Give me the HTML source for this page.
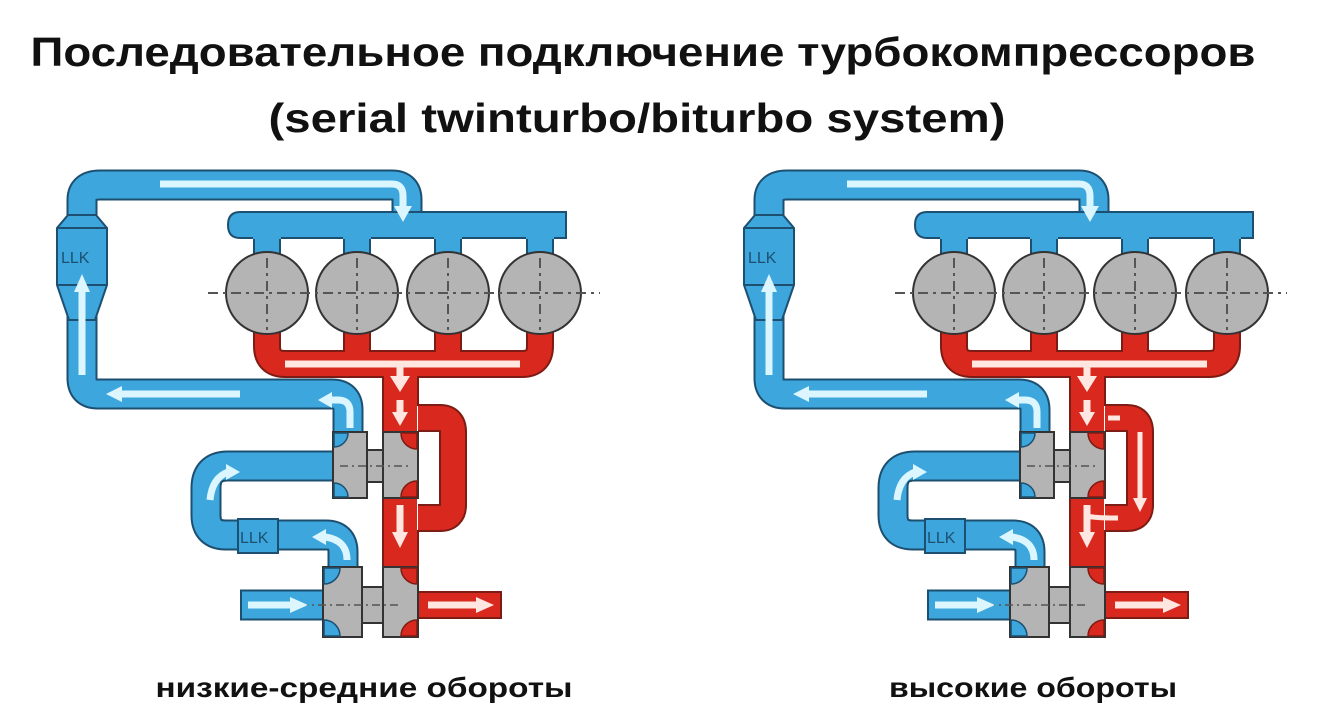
<!DOCTYPE html>
<html><head><meta charset="utf-8"><style>
html,body{margin:0;padding:0;background:#fff;}
svg{display:block;}
</style></head><body>
<svg width="1320" height="726" viewBox="0 0 1320 726" xmlns="http://www.w3.org/2000/svg">
<defs>
<g id="d">
  <g fill="none" stroke="#1d4f70" stroke-width="31" stroke-linejoin="round">
    <path d="M82,232 V200 Q82,185 100,185 H392 Q407,185 407,200 V222"/>
    <path d="M82,300 V378 Q82,394 98,394 H332 Q348,394 348,410 V434"/>
    <path d="M335,466 H228 Q206,466 206,488 V515 Q206,535 226,535 H326 Q343,535 343,552 V570"/>
    <path d="M240,605 H325"/>
  </g>
  <g fill="none" stroke="#3ca6dd" stroke-width="27" stroke-linejoin="round">
    <path d="M82,232 V200 Q82,185 100,185 H392 Q407,185 407,200 V222"/>
    <path d="M82,300 V378 Q82,394 98,394 H332 Q348,394 348,410 V434"/>
    <path d="M335,466 H228 Q206,466 206,488 V515 Q206,535 226,535 H326 Q343,535 343,552 V570"/>
    <path d="M242,605 H325"/>
  </g>
  <path d="M68,215 L96,215 L107,228 L107,285 L95,320 L69,320 L57,285 L57,228 Z" fill="#3ca6dd" stroke="#1d4f70" stroke-width="2"/>
  <line x1="57" y1="228" x2="107" y2="228" stroke="#1d4f70" stroke-width="2"/>
  <line x1="57" y1="285" x2="107" y2="285" stroke="#1d4f70" stroke-width="2"/>
  <rect x="238" y="519" width="40" height="34" fill="#3ca6dd" stroke="#1d4f70" stroke-width="2"/>
  <path d="M240,212 H566 V238 H240 Q228,238 228,225 Q228,212 240,212 Z" fill="#3ca6dd" stroke="#1d4f70" stroke-width="2"/>
  <g fill="#3ca6dd" stroke="#1d4f70" stroke-width="2">
    <rect x="254" y="236" width="26" height="26"/>
    <rect x="344" y="236" width="26" height="26"/>
    <rect x="435" y="236" width="26" height="26"/>
    <rect x="527" y="236" width="26" height="26"/>
  </g>
  <rect x="253" y="234" width="28" height="5" fill="#3ca6dd"/>
  <rect x="343" y="234" width="28" height="5" fill="#3ca6dd"/>
  <rect x="434" y="234" width="28" height="5" fill="#3ca6dd"/>
  <rect x="526" y="234" width="28" height="5" fill="#3ca6dd"/>
  <g fill="none" stroke="#7d1c14" stroke-width="28" stroke-linejoin="round">
    <path d="M267,320 V346 Q267,364 285,364 H522 Q540,364 540,346 V320"/>
    <path d="M357,320 V360"/><path d="M448,320 V360"/>
    <path d="M400,364 V600"/>
    <path d="M418,418 H440 Q453,418 453,432 V505 Q453,518 440,518 H418"/>
    <path d="M418,605 H502"/>
  </g>
  <g fill="none" stroke="#d9281d" stroke-width="24" stroke-linejoin="round">
    <path d="M267,320 V346 Q267,364 285,364 H522 Q540,364 540,346 V320"/>
    <path d="M357,320 V360"/><path d="M448,320 V360"/>
    <path d="M400,364 V600"/>
    <path d="M418,418 H440 Q453,418 453,432 V505 Q453,518 440,518 H418"/>
    <path d="M418,605 H500"/>
  </g>
  <rect x="384" y="364" width="33" height="270" fill="#d9281d"/>
  <line x1="383" y1="376" x2="383" y2="634" stroke="#7d1c14" stroke-width="2"/>
  <line x1="418" y1="376" x2="418" y2="406" stroke="#7d1c14" stroke-width="2"/>
  <line x1="418" y1="530" x2="418" y2="591" stroke="#7d1c14" stroke-width="2"/>
  <g fill="#b4b4b4" stroke="#333" stroke-width="2">
    <circle cx="267" cy="293" r="41"/><circle cx="357" cy="293" r="41"/>
    <circle cx="448" cy="293" r="41"/><circle cx="540" cy="293" r="41"/>
  </g>
  <g stroke="#555" stroke-width="2" stroke-dasharray="10,5,3,5" fill="none">
    <path d="M208,293 H600"/>
    <path d="M267,258 V330 M357,258 V330 M448,258 V330 M540,258 V330"/>
  </g>
  <rect x="333" y="432" width="34" height="66" fill="#b4b4b4" stroke="#333" stroke-width="2"/>
  <path d="M334,433 h14 a14,14 0 0 1 -14,14 z M334,497 h14 a14,14 0 0 0 -14,-14 z" fill="#3ca6dd" stroke="#1d4f70" stroke-width="1.5"/>
  <rect x="367" y="450" width="16" height="32" fill="#b4b4b4" stroke="#333" stroke-width="2"/>
  <rect x="383" y="432" width="35" height="66" fill="#b4b4b4" stroke="#333" stroke-width="2"/>
  <path d="M417,433 h-16 a16,16 0 0 0 16,16 z M417,497 h-16 a16,16 0 0 1 16,-16 z" fill="#d9281d" stroke="#7d1c14" stroke-width="1.5"/>
  <rect x="323" y="567" width="39" height="70" fill="#b4b4b4" stroke="#333" stroke-width="2"/>
  <path d="M324,568 h16 a16,16 0 0 1 -16,16 z M324,636 h16 a16,16 0 0 0 -16,-16 z" fill="#3ca6dd" stroke="#1d4f70" stroke-width="1.5"/>
  <rect x="362" y="587" width="21" height="36" fill="#b4b4b4" stroke="#333" stroke-width="2"/>
  <rect x="383" y="567" width="35" height="70" fill="#b4b4b4" stroke="#333" stroke-width="2"/>
  <path d="M417,568 h-16 a16,16 0 0 0 16,16 z M417,636 h-16 a16,16 0 0 1 16,-16 z" fill="#d9281d" stroke="#7d1c14" stroke-width="1.5"/>
  <path d="M340,466 H410 M300,605 H400" stroke="#555" stroke-width="1.5" stroke-dasharray="8,4,2,4"/>
  <g fill="none" stroke="#dcf6ff" stroke-width="7">
    <path d="M160,184 H392 Q403,184 403,196 V208"/>
    <path d="M82,375 V290"/>
    <path d="M240,394 H120"/>
    <path d="M350,428 V412 Q350,400 338,400 H330"/>
    <path d="M210,500 Q212,478 228,472"/>
    <path d="M347,560 Q347,540 325,537"/>
    <path d="M248,605 H290"/>
  </g>
  <g fill="#dcf6ff">
    <polygon points="394,206 412,206 403,222"/>
    <polygon points="74,292 90,292 82,274"/>
    <polygon points="122,386 122,402 106,394"/>
    <polygon points="332,392 332,408 318,400"/>
    <polygon points="226,464 226,480 240,472"/>
    <polygon points="326,529 326,545 312,537"/>
    <polygon points="290,597 290,613 308,605"/>
  </g>
  <g fill="none" stroke="#ffe6e0" stroke-width="7">
    <path d="M285,364 H520"/>
    <path d="M400,366 V378"/>
    <path d="M400,400 V414"/>
    <path d="M400,505 V535"/>
    <path d="M428,605 H478"/>
  </g>
  <g fill="#ffe6e0">
    <polygon points="390,376 410,376 400,392"/>
    <polygon points="392,412 408,412 400,426"/>
    <polygon points="392,532 408,532 400,548"/>
    <polygon points="476,597 476,613 494,605"/>
  </g>
</g>
</defs>

<text x="643" y="66" text-anchor="middle" font-family="Liberation Sans, sans-serif" font-weight="bold" font-size="41" textLength="1225" lengthAdjust="spacingAndGlyphs" fill="#111">Последовательное подключение турбокомпрессоров</text>
<text x="637" y="132" text-anchor="middle" font-family="Liberation Sans, sans-serif" font-weight="bold" font-size="41" textLength="737" lengthAdjust="spacingAndGlyphs" fill="#111">(serial twinturbo/biturbo system)</text>

<use href="#d"/>
<use href="#d" x="687"/>

<g fill="none" stroke="#ffe6e0" stroke-width="5">
  <path d="M1108,418 H1120"/>
  <path d="M1140,432 V500"/>
  <path d="M1087,522 V515 Q1087,518 1118,518"/>
</g>
<g fill="#ffe6e0">
  <polygon points="1133,498 1147,498 1140,512"/>
</g>

<g font-family="Liberation Sans, sans-serif" font-size="16" fill="#1d4f70">
  <text x="61" y="263">LLK</text>
  <text x="240" y="543">LLK</text>
  <text x="748" y="263">LLK</text>
  <text x="927" y="543">LLK</text>
</g>

<text x="364" y="697" text-anchor="middle" font-family="Liberation Sans, sans-serif" font-weight="bold" font-size="28" textLength="417" lengthAdjust="spacingAndGlyphs" fill="#111">низкие-средние обороты</text>
<text x="1033" y="697" text-anchor="middle" font-family="Liberation Sans, sans-serif" font-weight="bold" font-size="28" textLength="288" lengthAdjust="spacingAndGlyphs" fill="#111">высокие обороты</text>
</svg>
</body></html>
